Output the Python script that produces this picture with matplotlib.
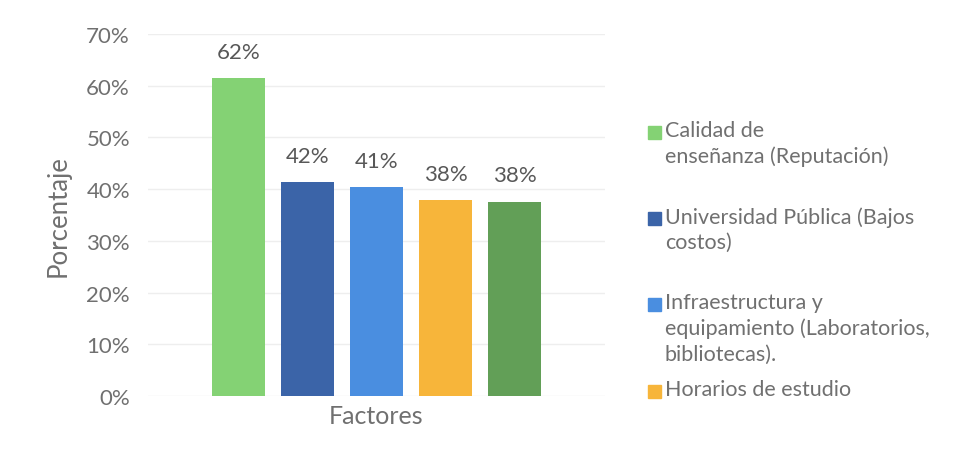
import numpy as np
import matplotlib.pyplot as plt
from matplotlib.patches import Rectangle

# Datos del grafico
factores = ["Calidad de\nenseñanza (Reputación)",
            "Universidad Pública (Bajos\ncostos)",
            "Infraestructura y\nequipamiento (Laboratorios,\nbibliotecas).",
            "Horarios de estudio",
            "Otros"]
valores = [0.615, 0.414, 0.404, 0.379, 0.376]
etiquetas = ["62%", "42%", "41%", "38%", "38%"]
colores = ["#84d274", "#3b64a8", "#4a8ee0", "#f7b53a", "#629f57"]
yticks = [0, 0.1, 0.2, 0.3, 0.4, 0.5, 0.6, 0.7]

plt.rcParams['font.family'] = ['Lato', 'DejaVu Sans']
gris = "#707070"

W, H = 964, 456
fig = plt.figure(figsize=(W / 100, H / 100), dpi=100)
ax = fig.add_axes([148 / W, 1 - 397 / H, 457 / W, 362 / H])

x = np.arange(len(valores))
for i in range(len(valores)):
    ax.bar(x[i], valores[i], width=0.77, color=colores[i], zorder=3)
    ax.annotate(etiquetas[i], (x[i], valores[i]), xytext=(0, 19),
                textcoords="offset points", ha="center", va="center",
                fontsize=16, color="#585858")

ax.set_ylim(0, 0.7)
ax.set_xlim(-1.31, 5.31)
ax.set_yticks(yticks)
ax.set_yticklabels([f"{int(round(v*100))}%" for v in yticks])
ax.set_xticks([2])
ax.set_xticklabels(["Factores"])
ax.tick_params(axis="y", length=0, labelsize=16, labelcolor=gris, pad=13)
ax.tick_params(axis="x", length=0, labelsize=18, labelcolor=gris, pad=6)
ax.set_ylabel("Porcentaje", fontsize=18.5, color=gris, labelpad=11)
ax.grid(axis="y", color="#eeeeee", linewidth=1, zorder=0)
for s in ax.spines.values():
    s.set_visible(False)

# Leyenda manual (solo se ven cuatro entradas)
leyenda_y = [133, 219, 305, 392]   # centro de la primera linea, en pixeles
for i, yp in enumerate(leyenda_y):
    yc = 1 - yp / H
    fig.patches.append(Rectangle((648 / W, yc - 6.5 / H), 13 / W, 13 / H,
                                 transform=fig.transFigure, color=colores[i]))
    fig.text(665 / W, yc + 12 / H, factores[i], ha="left", va="top",
             fontsize=15.5, color=gris, linespacing=1.35)

plt.savefig("out.png", dpi=100)
